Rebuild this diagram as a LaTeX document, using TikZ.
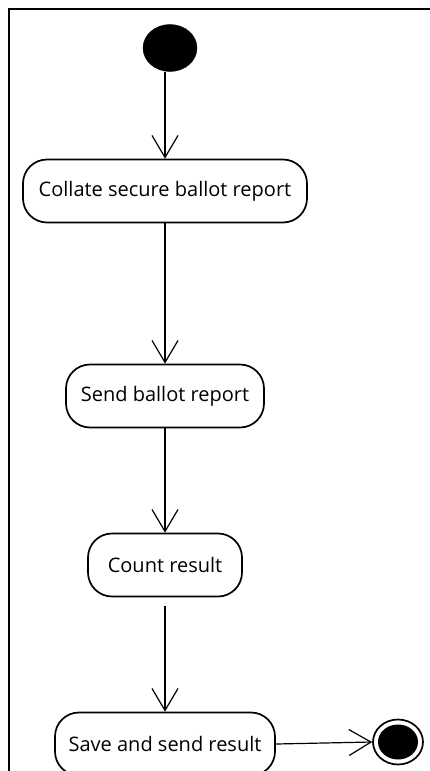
\documentclass[tikz,border=0pt]{standalone}
\usepackage{fontspec}
\setmainfont{Open Sans}
\usetikzlibrary{arrows.meta,shapes.geometric}
\begin{document}
\begin{tikzpicture}[x=1pt,y=-1pt,
  activity/.style={draw, line width=1.7pt, rounded corners=24pt, inner sep=0pt,
    minimum height=63pt, font=\fontsize{20}{24}\selectfont, align=center},
  flow/.style={line width=1.2pt, -{Straight Barb[length=22pt,width=26pt,line width=1.2pt]}},
  initialnode/.style={ellipse, fill=black, draw=black, minimum width=54pt, minimum height=47pt, inner sep=0pt}]
  \useasboundingbox (0,0) rectangle (430,771);
  % swimlane frame (open to the right and bottom)
  \draw[line width=1.8pt] (9,771) -- (9,9) -- (430,9);

  \node[initialnode] (start) at (170,48) {};

  \node[activity, minimum width=284pt] (collate) at (165,191) {Collate secure ballot report};
  \node[activity, minimum width=198pt] (sendrep) at (165,396) {Send ballot report};
  \node[activity, minimum width=154pt] (count) at (165,565) {Count result};
  \node[activity, minimum width=220pt] (save) at (165,744) {Save and send result};

  % final node: ring with a filled centre
  \node[ellipse, draw, line width=1.7pt, minimum width=50pt, minimum height=45pt, inner sep=0pt] (final) at (398,742) {};
  \fill (final) ellipse [x radius=20pt, y radius=17.5pt];

  \draw[flow] (collate.north |- start.south) -- (collate.north);
  \draw[flow] (collate.south) -- (sendrep.north);
  \draw[flow] (sendrep.south) -- (count.north);
  \draw[flow, shorten <=9pt] (count.south) -- (save.north);
  \draw[flow] (save.east) -- (final.west);
\end{tikzpicture}
\end{document}
